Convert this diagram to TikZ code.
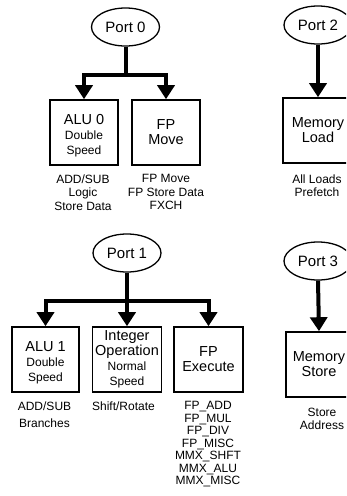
\documentclass[tikz,border=0pt]{standalone}
\usepackage{fontspec}
\setmainfont{Liberation Sans}
\usetikzlibrary{arrows.meta,shapes.geometric}
\newcommand\bigf{\fontsize{14.5}{15}\selectfont}
\newcommand\smf{\fontsize{12}{11.5}\selectfont}
\newcommand\topstrut{\rule{0pt}{16.5pt}}
\begin{document}
\begin{tikzpicture}[x=1pt,y=-1pt,
  port/.style={ellipse, draw, line width=1.3pt, minimum width=68pt, minimum height=38pt, inner sep=0pt, font=\fontsize{15}{15}\selectfont},
  unit/.style={draw, line width=1.6pt, minimum width=68pt, minimum height=65pt, inner sep=0pt, align=center, font=\bigf},
  lbl/.style={align=center, inner sep=0pt, anchor=north},
  conn/.style={line width=4pt, -{Triangle[width=17pt,length=14pt]}},
]
\useasboundingbox (0,0) rectangle (346,496);
\fill[white] (0,0) rectangle (346,496);
\clip (0,0) rectangle (346,496);

% Port 0
\node[port] (p0) at (125.5,27) {Port 0};
\node[unit] (alu0) at (84,132.5) {\topstrut ALU 0\\\smf Double\\\smf Speed};
\node[unit] (fpmove) at (166,132.5) {FP\\Move};
\coordinate (j0) at (125.5,75);
\draw[conn] (p0.south) -- (j0) -| (alu0.north);
\draw[conn] (j0) -| (fpmove.north);
\node[lbl, font=\fontsize{12}{13.5}\selectfont] (l0a) at (83,174.5) {ADD/SUB\\Logic\\Store Data};
\node[lbl, font=\fontsize{12}{13.5}\selectfont] (l0b) at (166,174.5) {FP Move\\FP Store Data\\FXCH};

% Port 2
\node[port] (p2) at (318,25) {Port 2};
\node[unit, minimum width=70pt] (mload) at (318,130.5) {Memory\\Load};
\draw[conn] (p2.south) -- (mload.north);
\node[lbl, font=\fontsize{12}{13}\selectfont] (l2) at (317,174.5) {All Loads\\Prefetch};

% Port 1
\node[port] (p1) at (127,253) {Port 1};
\node[unit, minimum width=67pt] (alu1) at (45.5,359.5) {\topstrut ALU 1\\\smf Double\\\smf Speed};
\node[unit, minimum width=69pt] (intop) at (127,359.5) {Integer\\Operation\\\smf Normal\\\smf Speed};
\node[unit, minimum width=69pt] (fpex) at (208.5,359.5) {FP\\Execute};
\coordinate (j1) at (127,301);
\draw[conn] (p1.south) -- (j1) -| (alu1.north);
\draw[conn] (j1) -- (intop.north);
\draw[conn] (j1) -| (fpex.north);
\node[lbl, font=\fontsize{12}{17}\selectfont] (l1a) at (44.5,401.5) {ADD/SUB\\Branches};
\node[lbl, font=\fontsize{12}{13}\selectfont] (l1b) at (123.5,401.5) {Shift/Rotate};
\node[lbl, font=\fontsize{12}{12.5}\selectfont] (l1c) at (208,401.5) {FP\_ADD\\FP\_MUL\\FP\_DIV\\FP\_MISC\\MMX\_SHFT\\MMX\_ALU\\MMX\_MISC};

% Port 3
\node[port] (p3) at (318,261) {Port 3};
\node[unit, minimum width=66pt] (mstore) at (319,364.5) {Memory\\Store};
\draw[conn] (p3.south) -- (mstore.north);
\node[lbl, font=\fontsize{12}{13}\selectfont] (l3) at (322,407.5) {Store\\Address};
\end{tikzpicture}
\end{document}
